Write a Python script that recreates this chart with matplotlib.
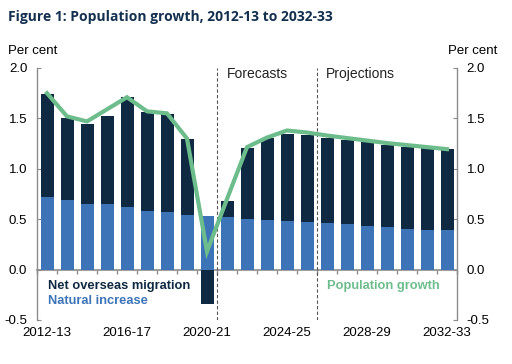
import matplotlib
matplotlib.use("Agg")
import matplotlib.pyplot as plt
import numpy as np

years = ["2012-13", "2013-14", "2014-15", "2015-16", "2016-17", "2017-18", "2018-19",
         "2019-20", "2020-21", "2021-22", "2022-23", "2023-24", "2024-25", "2025-26",
         "2026-27", "2027-28", "2028-29", "2029-30", "2030-31", "2031-32", "2032-33"]
natural_increase = [0.72, 0.69, 0.65, 0.65, 0.62, 0.58, 0.57, 0.54, 0.53, 0.52, 0.505,
                    0.495, 0.485, 0.475, 0.46, 0.45, 0.43, 0.42, 0.405, 0.395, 0.39]
net_overseas = [1.74 - 0.72, 1.50 - 0.69, 1.44 - 0.65, 1.525 - 0.65, 1.71 - 0.62,
                1.56 - 0.58, 1.54 - 0.57, 1.30 - 0.54, -0.34, 0.68 - 0.52, 1.205 - 0.505,
                1.31 - 0.495, 1.35 - 0.485, 1.335 - 0.475, 1.31 - 0.46, 1.29 - 0.45,
                1.265 - 0.43, 1.24 - 0.42, 1.22 - 0.405, 1.21 - 0.395, 1.195 - 0.39]
population_growth = [1.75, 1.52, 1.47, 1.59, 1.71, 1.57, 1.55, 1.30, 0.18, 0.70, 1.215,
                     1.31, 1.38, 1.36, 1.33, 1.305, 1.28, 1.255, 1.235, 1.215, 1.195]
label_years = ["2012-13", "2016-17", "2020-21", "2024-25", "2028-29", "2032-33"]
yticks = [-0.5, 0.0, 0.5, 1.0, 1.5, 2.0]

NAVY = "#0f2942"
BLUE = "#3d74b8"
GREEN = "#6dbd8c"
GRAY = "#8c8c8c"
TITLE = "#14304f"

plt.rcParams['font.family'] = ['Liberation Sans', 'DejaVu Sans']

fig = plt.figure(figsize=(5.12, 3.64), dpi=100)
ax = fig.add_axes([37/512, 1 - 320/364, 420/512, 252/364])

x = np.arange(len(years))
w = 0.65
ax.bar(x, natural_increase, width=w, color=BLUE, zorder=2)
nom = np.array(net_overseas)
bottoms = np.where(nom >= 0, np.array(natural_increase), 0.0)
ax.bar(x, nom, width=w, bottom=bottoms, color=NAVY, zorder=2)
ax.plot(x, population_growth, color=GREEN, lw=3, zorder=3, solid_joinstyle='miter')

ax.set_xlim(-0.5, len(years) - 0.5)
ax.set_ylim(-0.5, 2.0)

for xv in [8.5, 13.5]:
    ax.plot([xv, xv], [-0.5, 2.0], ls=(0, (3, 2)), color="#555555", lw=0.8, zorder=1)

ax.text(9.0, 1.94, "Forecasts", fontsize=10, va='center', ha='left', color="#222222")
ax.text(13.95, 1.94, "Projections", fontsize=10, va='center', ha='left', color="#222222")

for s in ['top', 'bottom']:
    ax.spines[s].set_visible(False)
for s in ['left', 'right']:
    ax.spines[s].set_color(GRAY)
    ax.spines[s].set_linewidth(1.0)

ax.set_yticks(yticks)
ax.set_yticklabels([f"{v:.1f}" for v in yticks])
ax.tick_params(axis='y', direction='in', length=3, color=GRAY, labelsize=9.5,
               left=True, right=True, labelleft=True, labelright=True, pad=7)

idx = [years.index(l) for l in label_years]
ax.set_xticks(idx)
ax.set_xticklabels(label_years)
ax.tick_params(axis='x', length=0, labelsize=9.5, pad=5)

sec = ax.secondary_xaxis(0.2)
sec.spines['bottom'].set_color(GRAY)
sec.spines['bottom'].set_linewidth(1.2)
sec.set_xticks(np.arange(-0.5, len(years), 1.0))
sec.tick_params(axis='x', direction='out', length=3, color=GRAY, labelbottom=False, width=1)

ax.text(0.05, -0.16, "Net overseas migration", color=NAVY, fontsize=9.3, fontweight='bold',
        va='center', ha='left')
ax.text(0.05, -0.31, "Natural increase", color=BLUE, fontsize=9.3, fontweight='bold',
        va='center', ha='left')
ax.text(14.0, -0.16, "Population growth", color=GREEN, fontsize=9.3, fontweight='bold',
        va='center', ha='left')

fig.text(8/512, 1 - 51/364, "Per cent", fontsize=9.5, va='center', ha='left')
fig.text(497/512, 1 - 51/364, "Per cent", fontsize=9.5, va='center', ha='right')
fig.text(8/512, 1 - 17/364, "Figure 1: Population growth, 2012-13 to 2032-33",
         fontsize=10.0, fontweight='bold', color=TITLE, va='center', ha='left',
         family=['Open Sans', 'DejaVu Sans'])

fig.savefig("out.png", dpi=100)
